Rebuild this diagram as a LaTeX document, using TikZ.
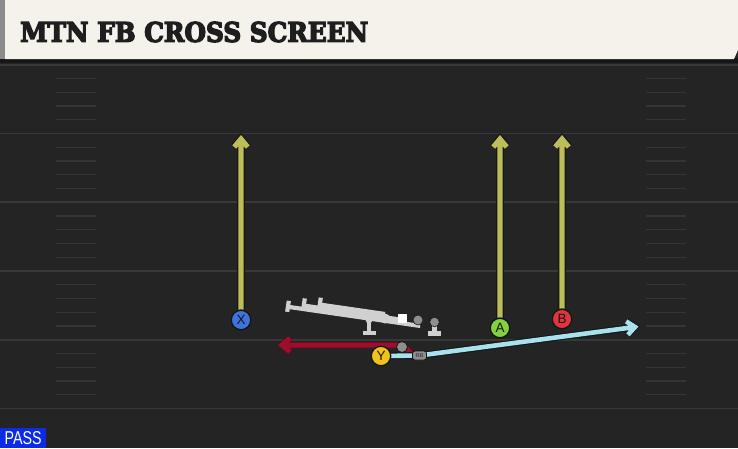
\documentclass[tikz,border=0pt]{standalone}
\usepackage{fontspec}
\setmainfont{DejaVu Sans}
\setsansfont{Liberation Sans}
\newfontfamily\titlefont{DejaVu Serif}[BoldFeatures={FakeBold=5}]
\usetikzlibrary{calc}
\definecolor{fieldbg}{HTML}{242424}
\definecolor{yardc}{HTML}{383838}
\definecolor{hashc}{HTML}{353535}
\definecolor{headc}{HTML}{F5F2EB}
\definecolor{titlec}{HTML}{1E1E1E}
\definecolor{routec}{HTML}{BDBD5A}
\definecolor{redc}{HTML}{9E0D2C}
\definecolor{cyanc}{HTML}{A8E2EE}
\definecolor{outl}{HTML}{161616}
\definecolor{xblue}{HTML}{3F73DB}
\definecolor{agreen}{HTML}{82D23E}
\definecolor{bred}{HTML}{E2343F}
\definecolor{yyell}{HTML}{F1C31A}
\definecolor{greyc}{HTML}{8E8E8E}
\definecolor{lightg}{HTML}{D0D0D0}
\definecolor{passc}{HTML}{0B2BE6}
\pgfdeclarelayer{fieldlayer}
\pgfdeclarelayer{routelayer}
\pgfsetlayers{fieldlayer,routelayer,main}
\tikzset{
  route/.style={draw=routec, line width=5.2pt, line join=miter, preaction={draw=outl, line width=7.6pt}},
  redroute/.style={draw=redc, line width=5pt, line join=miter, preaction={draw=outl!60!redc, line width=6.8pt}},
  cyanroute/.style={draw=cyanc, line width=4.6pt, line join=miter, preaction={draw=outl, line width=6.8pt}},
  player/.style={circle, draw=outl, line width=1.3pt, minimum size=19.5pt, inner sep=0pt,
    font=\sffamily\fontsize{13.5}{13.5}\selectfont, text=outl},
  oline/.style={draw=lightg, line width=4.2pt},
  hashmark/.style={draw=hashc, line width=1.2pt},
  yardline/.style={draw=yardc, line width=1.8pt}
}
\begin{document}
\begin{tikzpicture}[x=1pt,y=-1pt]
\useasboundingbox (0,0) rectangle (738,448);
\begin{pgfonlayer}{fieldlayer}
\fill[fieldbg] (0,0) rectangle (738,448);
\foreach \k in {0,...,5} {\draw[yardline] (0,64.8+68.75*\k) -- (738,64.8+68.75*\k);}
\foreach \k in {0,...,4} {
  \foreach \j in {1,...,4} {
    \draw[hashmark] (56,64.8+68.75*\k+13.75*\j) -- (96,64.8+68.75*\k+13.75*\j);
    \draw[hashmark] (646,64.8+68.75*\k+13.75*\j) -- (686,64.8+68.75*\k+13.75*\j);
  }
}
\fill[outl] (0,58) rectangle (738,63);
\fill[headc] (5,0) -- (738,0) -- (738,50) -- (734,59) -- (5,59) -- cycle;
\fill[black!45] (0,0) rectangle (5,59);
\end{pgfonlayer}
\node[anchor=west, inner sep=0pt, text=titlec] (title) at (20,32)
  {\resizebox{348pt}{20pt}{\titlefont\bfseries MTN FB CROSS SCREEN}};
% players
\node[player, fill=xblue] (X) at (241,320) {X};
\node[player, fill=agreen] (A) at (500,328) {A};
\node[player, fill=bred] (B) at (562,319) {B};
\node[player, fill=yyell] (Y) at (381,356) {Y};
\node[draw=outl, fill=greyc, line width=0.8pt, rounded corners=2.5pt, minimum width=14pt, minimum height=9pt,
  inner sep=0pt, font=\sffamily\bfseries\fontsize{5.5}{5.5}\selectfont, text=outl!80] (RB) at (419.5,355.5) {RB};
\node[circle, draw=outl, fill=greyc, line width=0.8pt, minimum size=11pt, inner sep=0pt] (fb) at (402,347) {};
\coordinate (Xt) at (241,139);
\coordinate (At) at (500,139);
\coordinate (Bt) at (562,139);
\coordinate (Rt) at (282,345);
\coordinate (Rs) at (396,345);
\coordinate (Ct) at (635,327);
\begin{pgfonlayer}{routelayer}
\draw[route] (X.north) -- (Xt) ($(Xt)!10.5pt!40:(X)$) -- (Xt) -- ($(Xt)!10.5pt!-40:(X)$);
\draw[route] (A.north) -- (At) ($(At)!10.5pt!40:(A)$) -- (At) -- ($(At)!10.5pt!-40:(A)$);
\draw[route] (B.north) -- (Bt) ($(Bt)!10.5pt!40:(B)$) -- (Bt) -- ($(Bt)!10.5pt!-40:(B)$);
\draw[redroute] (RB.west) .. controls (405,346) .. (Rs) -- (Rt) ($(Rt)!10.5pt!40:(Rs)$) -- (Rt) -- ($(Rt)!10.5pt!-40:(Rs)$);
\draw[cyanroute] (Y.center) -- (RB.center) -- (Ct) ($(Ct)!10.5pt!40:(RB)$) -- (Ct) -- ($(Ct)!10.5pt!-40:(RB)$);
\end{pgfonlayer}
% offensive line figure
\begin{scope}
\draw[oline] (288,306.8) -- (418,325.6) -- (418,321);
\draw[oline] (304,305.6) -- (400,319.5);
\draw[oline] (320,304.6) -- (385,314);
\draw[oline] (288.8,300.8) -- (287.2,311.8);
\draw[oline] (304.8,298.4) -- (303.2,309.4);
\draw[oline] (320.8,297.7) -- (319.2,308.7);
\draw[oline] (369,320) -- (369,332);
\draw[oline] (363,333) -- (376,333);
\fill[lightg] (369,320) circle (3.4pt);
\fill[lightg] (385,318.5) circle (5pt);
\fill[white] (397.5,313.5) rectangle (406.5,322.5);
\fill[greyc, draw=outl, line width=0.6pt] (418,320) circle (5pt);
\draw[oline] (434.5,324) -- (434.5,332);
\draw[oline] (428,333.5) -- (441,333.5);
\fill[greyc, draw=outl, line width=0.6pt] (434.5,322) circle (4.8pt);
\end{scope}
\node[fill=passc, text=white, anchor=south west, minimum width=46pt, minimum height=20pt, inner sep=0pt,
  font=\sffamily] (pass) at (0,448) {\resizebox{37pt}{13pt}{PASS}};
\end{tikzpicture}
\end{document}
